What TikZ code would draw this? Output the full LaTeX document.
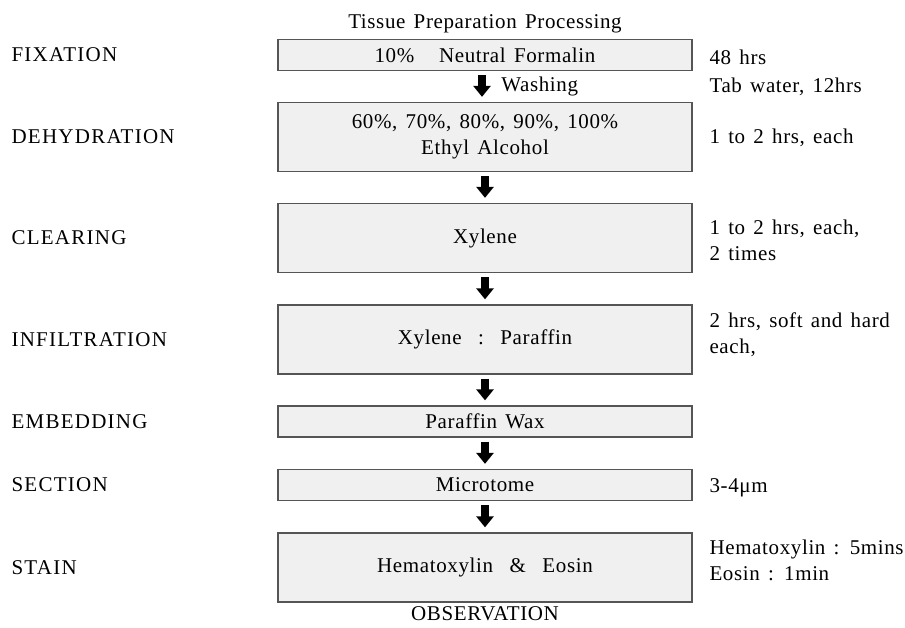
\documentclass[tikz,border=0pt]{standalone}
\usepackage{fontspec}
\setmainfont{Liberation Serif}[LetterSpace=3, WordSpace=1.4]
\usetikzlibrary{arrows.meta, positioning}
\definecolor{boxgray}  {RGB}{240, 240, 240}
\definecolor{edgegray} {RGB}{ 85,  85,  85}

\begin{document}
\begin{tikzpicture}[x=1pt, y=-1pt,
    font=\fontsize{21}{26}\selectfont,
    stepbox/.style={draw=edgegray, line width=1.3pt, fill=boxgray,
      minimum width=414pt, inner sep=0pt, align=center},
    downarrow/.style={line width=8pt, -{Triangle[width=17pt,length=11pt]},
      shorten <=4pt, shorten >=5pt},
    stage/.style={anchor=west, font=\fontsize{21}{26}\selectfont\addfontfeature{LetterSpace=6}},
    note/.style={anchor=west, align=left}]
    \useasboundingbox (0,0) rectangle (905,627);
    % process boxes
    \node[stepbox, minimum height=31pt] (fix)   at (485,55)    {10\%\ \ \ Neutral Formalin};
    \node[stepbox, minimum height=69pt] (dehyd) at (485,137)   {60\%, 70\%, 80\%, 90\%, 100\%\\Ethyl Alcohol};
    \node[stepbox, minimum height=69pt] (clear) at (485,238)   {Xylene};
    \node[stepbox, minimum height=69pt] (infil) at (485,339.5) {Xylene\ \ :\ \ Paraffin};
    \node[stepbox, minimum height=31pt] (embed) at (485,421.5) {Paraffin Wax};
    \node[stepbox, minimum height=31pt] (sect)  at (485,485)   {Microtome};
    \node[stepbox, minimum height=69pt] (stain) at (485,567.5) {Hematoxylin \ \& \ Eosin};
    \node (title) at (485,24)  {Tissue Preparation Processing};
    \node (obs)   at (485,614) {OBSERVATION};
    % arrows
    \draw[downarrow] ([xshift=-3pt]fix.south) -- ([xshift=-3pt]dehyd.north)
      node[midway, right=12pt] (wash) {Washing};
    \foreach \a/\b in {dehyd/clear, clear/infil, infil/embed, embed/sect, sect/stain}
      \draw[downarrow] (\a) -- (\b);
    % stage names
    \node[stage] (lfix)   at (8,55)    {FIXATION};
    \node[stage] (ldehyd) at (8,137)   {DEHYDRATION};
    \node[stage] (lclear) at (8,238)   {CLEARING};
    \node[stage] (linfil) at (8,339.5) {INFILTRATION};
    \node[stage] (lembed) at (8,421.5) {EMBEDDING};
    \node[stage] (lsect)  at (8,485)   {SECTION};
    \node[stage] (lstain) at (8,567.5) {STAIN};
    % conditions
    \node[note] (nfix)   at (706,57)  {48 hrs};
    \node[note] (nwash)  at (706,87)  {Tab water, 12hrs};
    \node[note] (ndehyd) at (706,138) {1 to 2 hrs, each};
    \node[note] (nclear) at (706,240) {1 to 2 hrs, each,\\2 times};
    \node[note] (ninfil) at (706,335) {2 hrs, soft and hard\\each,};
    \node[note] (nsect)  at (706,488) {3-4μm};
    \node[note] (nstain) at (706,560) {Hematoxylin : 5mins\\Eosin : 1min};
\end{tikzpicture}
\end{document}
